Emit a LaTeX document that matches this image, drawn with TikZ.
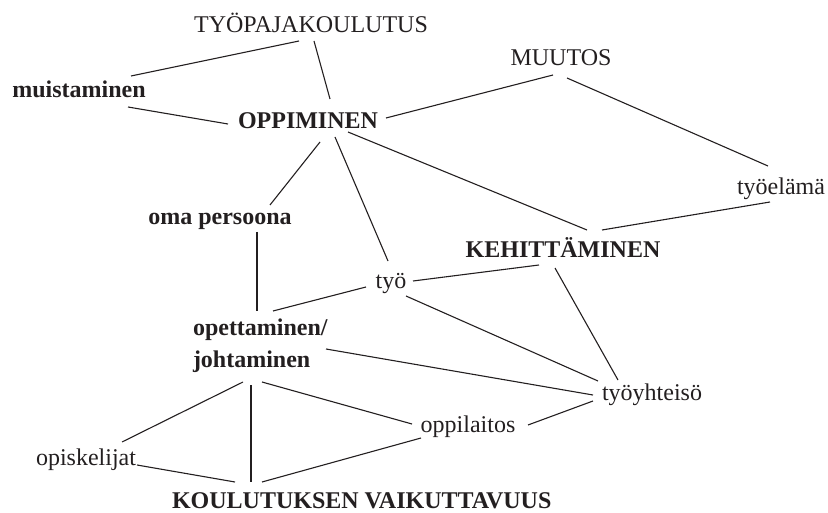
\documentclass[tikz,border=0pt]{standalone}
\usepackage{fontspec}
\setmainfont{Liberation Serif}
\definecolor{ink}{HTML}{231F20}
% connector between two nodes, each end shifted from a named anchor
\newcommand\lnk[4]{\draw[link] ([shift={(#2)}]#1) -- ([shift={(#4)}]#3);}
\begin{document}
\begin{tikzpicture}[x=1pt,y=-1pt,
  every node/.style={inner sep=0pt,outer sep=0pt,text=ink,
    font=\fontsize{24}{32}\selectfont},
  term/.style={anchor=base},
  key/.style={anchor=base,font=\fontsize{24}{32}\selectfont\bfseries},
  link/.style={draw=ink,line width=1.1pt}]
\useasboundingbox (0,0) rectangle (828,513);

% concepts
\node[term] (top) at (311,33) {TYÖPAJAKOULUTUS};
\node[key]  (mu)  at (79,98)  {muistaminen};
\node[key]  (opp) at (308,129) {OPPIMINEN};
\node[term] (muu) at (561,66) {MUUTOS};
\node[term] (tel) at (781,195) {työelämä};
\node[key]  (keh) at (563,258) {KEHITTÄMINEN};
\node[key]  (oma) at (220,225) {oma persoona};
\node[term] (tyo) at (391,289) {työ};
\node[key,anchor=base west] (opj) at (193,336)
  {\begin{tabular}[t]{@{}l@{}}opettaminen/\\johtaminen\end{tabular}};
\node[term] (tyh) at (652,400) {työyhteisö};
\node[term] (opl) at (468,432) {oppilaitos};
\node[term] (opi) at (86,465) {opiskelijat};
\node[key,anchor=base west] (kou) at (172,508) {KOULUTUKSEN VAIKUTTAVUUS};

% connections
\lnk{top.base}{-12,8}{mu.base}{52,-22}
\lnk{top.base}{3,8}{opp.base}{22,-30}
\lnk{mu.base}{49,9}{opp.base}{-80,-5}
\lnk{opp.base}{78,-11}{muu.base}{-8,9}
\lnk{opp.base}{40,3}{keh.base}{24,-28}
\lnk{opp.base}{12,13}{oma.base}{50,-20}
\lnk{opp.base}{27,8}{tyo.base}{-3,-28}
\lnk{muu.base}{6,12}{tel.base}{-13,-29}
\lnk{tel.base}{-11,7}{keh.base}{39,-28}
\lnk{oma.base}{37,7}{opj.base west}{64,-25}
\lnk{tyo.base}{-25,-2}{opj.base west}{80,-25}
\lnk{tyo.base}{22,-8}{keh.base}{-24,7}
\lnk{tyo.base}{15,7}{tyh.base}{-54,-19}
\lnk{keh.base}{-8,10}{tyh.base}{-34,-20}
\lnk{opj.base west}{133,13}{tyh.base}{-59,-5}
\lnk{opl.base}{60,-7}{tyh.base}{-59,1}
\lnk{opj.base west}{69,46}{opl.base}{-56,-8}
\lnk{opj.base west}{50,46}{opi.base}{36,-23}
\lnk{opj.base west}{58,49}{kou.base west}{79,-26}
\lnk{opi.base}{51,0}{kou.base west}{63,-26}
\lnk{opl.base}{-47,6}{kou.base west}{90,-26}
\end{tikzpicture}
\end{document}
